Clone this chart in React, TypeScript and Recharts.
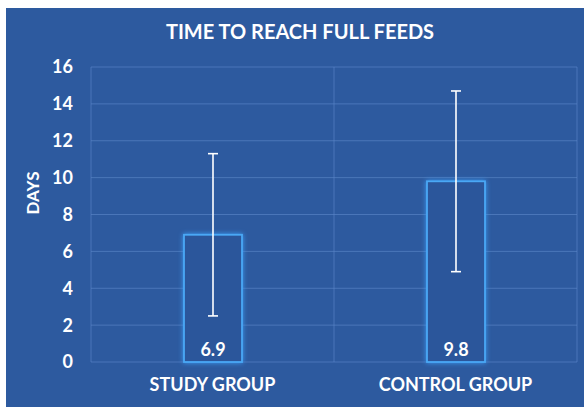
import React from 'react';
import { BarChart, Bar, XAxis, YAxis, CartesianGrid, ErrorBar, LabelList } from 'recharts';

const categories = ['STUDY GROUP', 'CONTROL GROUP'];
const meanDays = [6.9, 9.8];
const sdDays = [4.4, 4.9];
const yTicks = [0, 2, 4, 6, 8, 10, 12, 14, 16];

const data = categories.map((c, i) => ({ name: c, value: meanDays[i], err: sdDays[i] }));

const BG = '#2d5a9f';
const FONT = 'Lato, "Open Sans", sans-serif';

const GlowBar = (props: any) => {
  const { x, y, width, height } = props;
  return (
    <g>
      <rect x={x} y={y} width={width} height={height} fill="#2b569b" stroke="#4aa8f5" strokeWidth={1.8}
        style={{ filter: 'drop-shadow(0 0 2.5px #3d9cf5)' }} />
    </g>
  );
};

export default function App() {
  return (
    <div style={{ position: 'absolute', left: 6, top: 8, width: 578, height: 399, background: BG, fontFamily: FONT }}>
      <div style={{ position: 'absolute', left: 0, width: 588, top: 11, textAlign: 'center', color: '#fff', fontWeight: 700, fontSize: 20 }}>
        TIME TO REACH FULL FEEDS
      </div>
      <BarChart width={578} height={399} data={data} margin={{ top: 59, right: 7, left: 0, bottom: 0 }}>
        <CartesianGrid stroke="#5a86c8" strokeOpacity={0.65}
          verticalCoordinatesGenerator={({ offset }: any) => [offset.left, offset.left + offset.width / 2, offset.left + offset.width]} />
        <XAxis dataKey="name" axisLine={false} tickLine={false} tickSize={0} tickMargin={16} height={45}
          tick={{ fill: '#ffffff', fontSize: 18, fontWeight: 700, fontFamily: FONT }} />
        <YAxis domain={[0, 16]} ticks={yTicks} axisLine={false} tickLine={false} tickSize={0} tickMargin={18} width={85}
          tick={{ fill: '#ffffff', fontSize: 18, fontWeight: 700, fontFamily: FONT }}
          label={{ value: 'DAYS', angle: -90, position: 'insideLeft', offset: 27, fill: '#ffffff', fontSize: 17, fontWeight: 700, fontFamily: FONT }} />
        <Bar dataKey="value" barSize={58} isAnimationActive={false} shape={<GlowBar />}>
          <ErrorBar dataKey="err" width={5} stroke="#ffffff" strokeWidth={1.6} />
          <LabelList dataKey="value" position="insideBottom" offset={6} fill="#ffffff" fontSize={18} fontWeight={700} fontFamily={FONT} />
        </Bar>
      </BarChart>
    </div>
  );
}
